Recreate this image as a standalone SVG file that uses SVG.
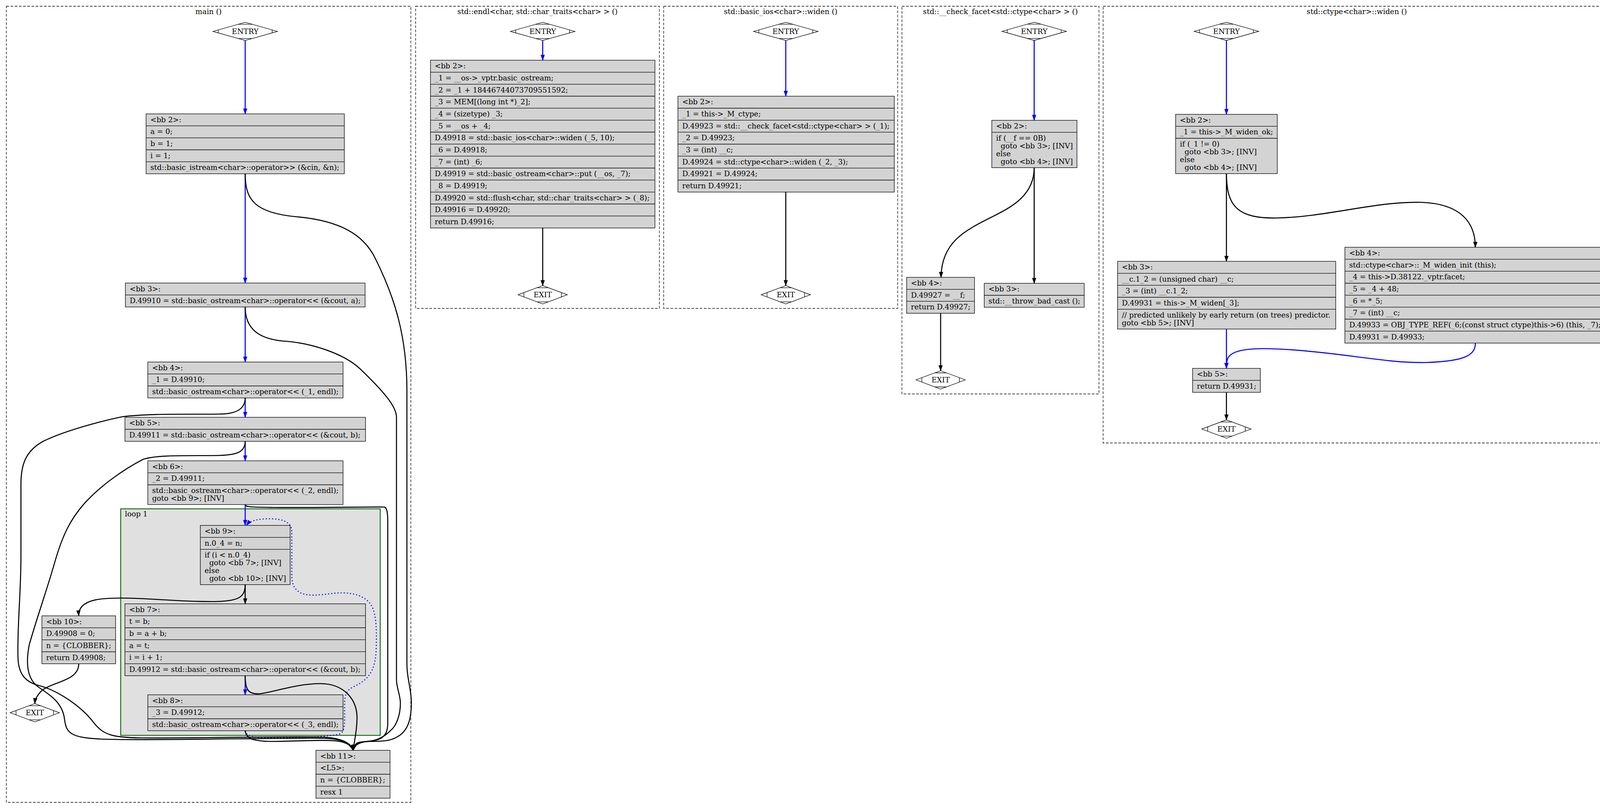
<svg xmlns="http://www.w3.org/2000/svg" width="6768" height="2071" viewBox="0 0 6768 2071">
<style>
.cl{fill:none;stroke:#000;stroke-width:1.33;stroke-dasharray:6.7,4}
.lp{fill:#e0e0e0;stroke:#006400;stroke-width:2.2}
.rec{fill:#d3d3d3;stroke:#000;stroke-width:1.33}
.sep{stroke:#000;stroke-width:1.33}
.dm{fill:#fff;stroke:#000;stroke-width:1.33}
.tk{fill:none;stroke:#000;stroke-width:1.33}
text{font-family:"DejaVu Serif",serif;font-size:18.67px;fill:#000;white-space:pre}
.tc{text-anchor:middle}
.eb{fill:none;stroke:#00f;stroke-width:2.67;marker-end:url(#ab)}
.ek{fill:none;stroke:#000;stroke-width:2.67;marker-end:url(#ak)}
.ed{fill:none;stroke:#00f;stroke-width:2.67;stroke-dasharray:2.7,5.3;marker-end:url(#ab)}
</style>
<defs>
<marker id="ab" markerUnits="userSpaceOnUse" markerWidth="14" markerHeight="10" viewBox="0 0 14 10" refX="13.3" refY="5" orient="auto" overflow="visible"><path d="M0,0.3 L13.3,5 L0,9.7 Z" fill="#00f" stroke="#00f" stroke-width="1"/></marker>
<marker id="ak" markerUnits="userSpaceOnUse" markerWidth="14" markerHeight="10" viewBox="0 0 14 10" refX="13.3" refY="5" orient="auto" overflow="visible"><path d="M0,0.3 L13.3,5 L0,9.7 Z" fill="#000" stroke="#000" stroke-width="1"/></marker>
<g id="dEn"><polygon class="dm" points="0,-23.25 82.5,0 0,23.25 -82.5,0"/><path class="tk" d="M-69,-3.8 L-69,3.8 M69,-3.8 L69,3.8 M-17.7,-18.25 L17.7,-18.25 M-17.7,18.25 L17.7,18.25"/></g>
<g id="dEx"><polygon class="dm" points="0,-23.5 63,0 0,23.5 -63,0"/><path class="tk" d="M-48,-5.6 L-48,5.6 M48,-5.6 L48,5.6 M-14.7,-18 L14.7,-18 M-14.7,18 L14.7,18"/></g>
</defs>
<rect width="6768" height="2071" fill="#fff"/>

<!-- clusters -->
<g id="clusters">
<rect class="cl" x="16.3" y="16" width="1035.4" height="2038"/><text class="tc" x="534" y="36">main ()</text>
<rect class="lp" x="309" y="1302.6" width="664.4" height="579.9"/><text x="319.8" y="1322">loop 1</text>
<rect class="cl" x="1064" y="16" width="624" height="773.5"/><text class="tc" x="1376" y="36">std::endl&lt;char, std::char_traits&lt;char&gt; &gt; ()</text>
<rect class="cl" x="1699" y="16" width="599" height="773.5"/><text class="tc" x="1998.5" y="36">std::basic_ios&lt;char&gt;::widen ()</text>
<rect class="cl" x="2309" y="16" width="504.4" height="992.5"/><text class="tc" x="2561" y="36">std::__check_facet&lt;std::ctype&lt;char&gt; &gt; ()</text>
<rect class="cl" x="2824" y="16" width="1299" height="1118"/><text class="tc" x="3473.5" y="36">std::ctype&lt;char&gt;::widen ()</text>
<rect class="cl" x="4133" y="16" width="310" height="773.5"/><text class="tc" x="4288" y="36">std::ctype&lt;char&gt;::do_widen ()</text>
<rect class="cl" x="4454" y="16" width="552.5" height="773.5"/><text class="tc" x="4730" y="36">std::flush&lt;char, std::char_traits&lt;char&gt; &gt; ()</text>
<rect class="cl" x="5017" y="16" width="420" height="773.5"/><text class="tc" x="5227" y="36">std::basic_ostream&lt;char&gt;::operator&lt;&lt; ()</text>
<rect class="cl" x="5447.6" y="16" width="563.2" height="773.5"/><text class="tc" x="5729" y="36">_GLOBAL__sub_I_main ()</text>
<rect class="cl" x="6021" y="16" width="731" height="1254"/><text class="tc" x="6386.5" y="36">__static_initialization_and_destruction_0 ()</text>
</g>

<!-- connectors -->
<g id="edges">
<!-- main -->
<path class="eb" d="M627.7,103.7 L627.7,291.5"/>
<path class="eb" d="M627.7,444.8 L627.7,724.5"/>
<path class="eb" d="M627.7,785.8 L627.7,926.7"/>
<path class="eb" d="M627.7,1018.7 L627.7,1068.3"/>
<path class="eb" d="M627.7,1129.7 L627.7,1179.6"/>
<path class="eb" d="M627.7,1291.6 L627.7,1345"/>
<path class="ek" d="M627.7,1496.6 L627.7,1545.7"/>
<path class="eb" d="M627.7,1729.7 L627.7,1778.6"/>
<path class="ed" d="M627.7,1870.7 C632,1890 660,1888 700,1888 C780,1888 850,1886 872,1878 C885,1870 882,1840 882,1810 C882,1780 885,1768 905,1758 C940,1742 962,1720 963,1660 C965,1600 962,1560 945,1542 C925,1520 890,1515 853,1519 C820,1523 790,1527 770,1518 C752,1508 747,1495 747,1470 L747,1360 C747,1335 720,1328 690,1328 C660,1328 640,1333 631,1345"/>
<path class="ek" d="M627.7,1496.6 C627.7,1530 610,1540 540,1540 C450,1540 380,1531 312,1531 C250,1531 225,1537 210,1552 C203,1560 201,1568 201.6,1576.5"/>
<path class="ek" d="M201.6,1699.2 C201.6,1745 130,1745 105,1770 C95,1780 90,1790 89,1801"/>
<path class="ek" d="M627.7,444.8 C627.7,510 650,545 760,555 C870,565 930,600 960,660 C1010,760 1041.7,860 1041.7,1000 L1041.7,1700 C1041.7,1740 1053,1760 1053,1800 C1053,1840 1045,1862 1030,1877 C1010,1895 990,1898 950,1898 C925,1898 908,1905 904,1920.7"/>
<path class="ek" d="M627.7,785.8 C627.7,840 660,870 737,874 C800,880 880,905 921.6,944 C980,1000 1015,1040 1015,1068 L1015,1740 C1015,1760 1025,1780 1025,1800 C1025,1830 1015,1858 1000,1870 C985,1885 965,1897 940,1898 C920,1899 907,1906 904,1920.7"/>
<path class="ek" d="M627.7,1018.7 C627.7,1050 600,1060 560,1060 C480,1061 380,1058 312,1067 C250,1080 160,1105 110,1130 C65,1155 53.6,1190 53.6,1240 L53.6,1424 C53.6,1520 44,1600 46,1683 C47,1720 60,1745 100,1755 C150,1768 210,1810 240,1850 C265,1882 290,1888 360,1889 C500,1890 750,1884 830,1887 C880,1890 900,1905 904,1920.7"/>
<path class="ek" d="M627.7,1129.7 C627.7,1160 600,1165 560,1166 C480,1167 400,1164 366,1176 C320,1200 260,1240 215,1290 C180,1330 160,1370 140,1440 C120,1510 95,1580 75,1650 C65,1700 70,1740 100,1760 C130,1780 160,1800 165,1840 C170,1880 180,1892 300,1893 C450,1895 750,1888 830,1890 C880,1892 900,1905 904,1920.7"/>
<path class="ek" d="M627.7,1291.6 C627.7,1298 640,1298 700,1299 C800,1300 960,1297 985,1298 C992,1302 992.7,1320 992.7,1341 L992.7,1850 C992.7,1870 988,1882 975,1890 C960,1898 935,1898 920,1900 C910,1903 905,1910 904,1920.7"/>
<path class="ek" d="M627.7,1729.7 C627.7,1765 635,1778 665,1776 C700,1772 760,1750 820,1750 C880,1750 915,1790 914,1840 C913,1880 906,1900 904,1920.7"/>
<path class="ek" d="M627.7,1870.7 C630,1890 645,1897 693,1898 C760,1898 840,1892 870,1898 C890,1902 900,1910 904,1920.7"/>
<!-- endl -->
<path class="eb" d="M1389.3,103.7 L1389.3,154.2"/>
<path class="ek" d="M1389.3,583.6 L1389.3,731.1"/>
<!-- basic_ios widen -->
<path class="eb" d="M2011.6,103.7 L2011.6,246.3"/>
<path class="ek" d="M2011.6,491.7 L2011.6,731.1"/>
<!-- check_facet -->
<path class="eb" d="M2647.5,103.5 L2647.5,308"/>
<path class="ek" d="M2647.5,429.3 L2647.5,725.3"/>
<path class="ek" d="M2647.5,429.3 C2647.5,500 2590,530 2540,555 C2470,590 2410,620 2409,710"/>
<path class="ek" d="M2408,802 L2408,949"/>
<!-- ctype widen -->
<path class="eb" d="M3139.7,103.5 L3139.7,292.7"/>
<path class="ek" d="M3139.7,444.5 L3139.7,669"/>
<path class="ek" d="M3139.7,444.5 C3139.7,530 3170,560 3270,558 C3400,555 3520,515 3640,518 C3740,522 3777,570 3776.8,633"/>
<path class="eb" d="M3139.7,842.4 L3139.7,943"/>
<path class="eb" d="M3776.8,878.4 C3776.8,905 3760,925 3650,928 C3550,930 3450,905 3300,895 C3200,888 3150,895 3142,920 C3140,928 3139.7,935 3139.7,943"/>
<path class="ek" d="M3139.7,1004.4 L3139.7,1074.8"/>
<!-- do_widen -->
<path class="eb" d="M4301,103.7 L4301,323"/>
<path class="ek" d="M4301,415 L4301,731"/>
<!-- flush -->
<path class="eb" d="M4743.75,103.7 L4743.75,306.8"/>
<path class="ek" d="M4743.75,429.5 L4743.75,731"/>
<!-- ostream operator<< -->
<path class="eb" d="M5240,103.7 L5240,291.5"/>
<path class="ek" d="M5240,444.9 L5240,731"/>
<!-- global sub -->
<path class="eb" d="M5742,103.75 L5742,322"/>
<path class="ek" d="M5742,414 L5742,730.5"/>
<!-- static init -->
<path class="eb" d="M6174,103.75 L6174,307.4"/>
<path class="ek" d="M6174,429.4 C6176,520 6208,590 6208.5,694.5"/>
<path class="ek" d="M6174,429.4 C6174,520 6100,560 6075,640 C6050,720 6030,940 6065,1000 C6090,1045 6150,1038 6250,1036 C6330,1034 6400,1030 6424,1069"/>
<path class="ek" d="M6208.5,815.6 C6208.5,870 6240,872 6300,872 C6380,872 6426,872 6426,926.6"/>
<path class="ek" d="M6208.5,815.6 C6208.5,870 6130,870 6105,910 C6080,960 6080,1010 6120,1030 C6170,1045 6300,1030 6380,1034 C6410,1036 6424,1050 6425,1069"/>
<path class="eb" d="M6426,1018.6 L6426,1069"/>
<path class="ek" d="M6426,1130.4 L6426,1211.5"/>
</g>

<!-- main nodes -->
<g id="main_entry"><use href="#dEn" x="627.7" y="80.4"/><text class="tc" x="627.7" y="87">ENTRY</text></g>
<g id="main_exit"><use href="#dEx" x="89" y="1824.6"/><text class="tc" x="89" y="1831">EXIT</text></g>
<g id="main_bb2">
<rect class="rec" x="374" y="291.5" width="507.5" height="153.3"/>
<path class="sep" d="M374,322.2 H881.5 M374,352.8 H881.5 M374,383.5 H881.5 M374,414.2 H881.5"/>
<text x="385" y="312.5">&lt;bb 2&gt;:</text><text x="385" y="343.2">a = 0;</text><text x="385" y="373.8">b = 1;</text><text x="385" y="404.5">i = 1;</text><text x="385" y="435.2">std::basic_istream&lt;char&gt;::operator&gt;&gt; (&amp;cin, &amp;n);</text>
</g>
<g id="main_bb3">
<rect class="rec" x="321" y="724.5" width="613.6" height="61.3"/>
<path class="sep" d="M321,755.2 H934.6"/>
<text x="332" y="745.5">&lt;bb 3&gt;:</text><text x="332" y="776.2">D.49910 = std::basic_ostream&lt;char&gt;::operator&lt;&lt; (&amp;cout, a);</text>
</g>
<g id="main_bb4">
<rect class="rec" x="378.4" y="926.7" width="499.8" height="92"/>
<path class="sep" d="M378.4,957.4 H878.2 M378.4,988 H878.2"/>
<text x="389.4" y="947.7">&lt;bb 4&gt;:</text><text x="389.4" y="978.4">_1 = D.49910;</text><text x="389.4" y="1009">std::basic_ostream&lt;char&gt;::operator&lt;&lt; (_1, endl);</text>
</g>
<g id="main_bb5">
<rect class="rec" x="319.8" y="1068.3" width="615.9" height="61.4"/>
<path class="sep" d="M319.8,1099 H935.7"/>
<text x="330.8" y="1089.3">&lt;bb 5&gt;:</text><text x="330.8" y="1120">D.49911 = std::basic_ostream&lt;char&gt;::operator&lt;&lt; (&amp;cout, b);</text>
</g>
<g id="main_bb6">
<rect class="rec" x="378.4" y="1179.6" width="499.8" height="112"/>
<path class="sep" d="M378.4,1210.3 H878.2 M378.4,1241 H878.2"/>
<text x="389.4" y="1200.6">&lt;bb 6&gt;:</text><text x="389.4" y="1231.3">_2 = D.49911;</text><text x="389.4" y="1262">std::basic_ostream&lt;char&gt;::operator&lt;&lt; (_2, endl);</text><text x="389.4" y="1282">goto &lt;bb 9&gt;; [INV]</text>
</g>
<g id="main_bb9">
<rect class="rec" x="512.8" y="1345" width="229.9" height="151.6"/>
<path class="sep" d="M512.8,1375.7 H742.7 M512.8,1406.4 H742.7"/>
<text x="523.8" y="1366">&lt;bb 9&gt;:</text><text x="523.8" y="1396.7">n.0_4 = n;</text><text x="523.8" y="1427.4">if (i &lt; n.0_4)</text><text x="523.8" y="1447.4">  goto &lt;bb 7&gt;; [INV]</text><text x="523.8" y="1467.4">else</text><text x="523.8" y="1487.4">  goto &lt;bb 10&gt;; [INV]</text>
</g>
<g id="main_bb7">
<rect class="rec" x="319.8" y="1545.7" width="615.9" height="184"/>
<path class="sep" d="M319.8,1576.4 H935.7 M319.8,1607 H935.7 M319.8,1637.7 H935.7 M319.8,1668.4 H935.7 M319.8,1699.1 H935.7"/>
<text x="330.8" y="1566.7">&lt;bb 7&gt;:</text><text x="330.8" y="1597.4">t = b;</text><text x="330.8" y="1628">b = a + b;</text><text x="330.8" y="1658.7">a = t;</text><text x="330.8" y="1689.4">i = i + 1;</text><text x="330.8" y="1720.1">D.49912 = std::basic_ostream&lt;char&gt;::operator&lt;&lt; (&amp;cout, b);</text>
</g>
<g id="main_bb8">
<rect class="rec" x="378.4" y="1778.6" width="499.8" height="92"/>
<path class="sep" d="M378.4,1809.3 H878.2 M378.4,1840 H878.2"/>
<text x="389.4" y="1799.6">&lt;bb 8&gt;:</text><text x="389.4" y="1830.3">_3 = D.49912;</text><text x="389.4" y="1861">std::basic_ostream&lt;char&gt;::operator&lt;&lt; (_3, endl);</text>
</g>
<g id="main_bb10">
<rect class="rec" x="107.3" y="1576.5" width="188.7" height="122.7"/>
<path class="sep" d="M107.3,1607.2 H296 M107.3,1637.8 H296 M107.3,1668.5 H296"/>
<text x="118.3" y="1597.5">&lt;bb 10&gt;:</text><text x="118.3" y="1628.2">D.49908 = 0;</text><text x="118.3" y="1658.8">n = {CLOBBER};</text><text x="118.3" y="1689.5">return D.49908;</text>
</g>
<g id="main_bb11">
<rect class="rec" x="808.8" y="1920.7" width="189.7" height="122.7"/>
<path class="sep" d="M808.8,1951.4 H998.5 M808.8,1982 H998.5 M808.8,2012.7 H998.5"/>
<text x="819.8" y="1941.7">&lt;bb 11&gt;:</text><text x="819.8" y="1972.4">&lt;L5&gt;:</text><text x="819.8" y="2003">n = {CLOBBER};</text><text x="819.8" y="2033.7">resx 1</text>
</g>

<!-- endl -->
<g id="endl_entry"><use href="#dEn" x="1389.3" y="80.4"/><text class="tc" x="1389.3" y="87">ENTRY</text></g>
<g id="endl_exit"><use href="#dEx" x="1389.3" y="754.6"/><text class="tc" x="1389.3" y="761">EXIT</text></g>
<g id="endl_bb2">
<rect class="rec" x="1102" y="154.2" width="574.6" height="429.4"/>
<path class="sep" d="M1102,184.87 H1676.6 M1102,215.54 H1676.6 M1102,246.21 H1676.6 M1102,276.88 H1676.6 M1102,307.55 H1676.6 M1102,338.22 H1676.6 M1102,368.89 H1676.6 M1102,399.56 H1676.6 M1102,430.23 H1676.6 M1102,460.9 H1676.6 M1102,491.57 H1676.6 M1102,522.24 H1676.6 M1102,552.91 H1676.6"/>
<text x="1113" y="175.2">&lt;bb 2&gt;:</text>
<text x="1113" y="205.87">_1 = __os-&gt;_vptr.basic_ostream;</text>
<text x="1113" y="236.54">_2 = _1 + 18446744073709551592;</text>
<text x="1113" y="267.21">_3 = MEM[(long int *)_2];</text>
<text x="1113" y="297.88">_4 = (sizetype) _3;</text>
<text x="1113" y="328.55">_5 = __os + _4;</text>
<text x="1113" y="359.22">D.49918 = std::basic_ios&lt;char&gt;::widen (_5, 10);</text>
<text x="1113" y="389.89">_6 = D.49918;</text>
<text x="1113" y="420.56">_7 = (int) _6;</text>
<text x="1113" y="451.23">D.49919 = std::basic_ostream&lt;char&gt;::put (__os, _7);</text>
<text x="1113" y="481.9">_8 = D.49919;</text>
<text x="1113" y="512.57">D.49920 = std::flush&lt;char, std::char_traits&lt;char&gt; &gt; (_8);</text>
<text x="1113" y="543.24">D.49916 = D.49920;</text>
<text x="1113" y="573.91">return D.49916;</text>
</g>

<!-- basic_ios widen -->
<g id="bwiden_entry"><use href="#dEn" x="2011.6" y="80.4"/><text class="tc" x="2011.6" y="87">ENTRY</text></g>
<g id="bwiden_exit"><use href="#dEx" x="2011.6" y="754.6"/><text class="tc" x="2011.6" y="761">EXIT</text></g>
<g id="bwiden_bb2">
<rect class="rec" x="1735.5" y="246.3" width="553.9" height="245.36"/>
<path class="sep" d="M1735.5,276.97 H2289.4 M1735.5,307.64 H2289.4 M1735.5,338.31 H2289.4 M1735.5,368.98 H2289.4 M1735.5,399.65 H2289.4 M1735.5,430.32 H2289.4 M1735.5,460.99 H2289.4"/>
<text x="1746.5" y="267.3">&lt;bb 2&gt;:</text>
<text x="1746.5" y="297.97">_1 = this-&gt;_M_ctype;</text>
<text x="1746.5" y="328.64">D.49923 = std::__check_facet&lt;std::ctype&lt;char&gt; &gt; (_1);</text>
<text x="1746.5" y="359.31">_2 = D.49923;</text>
<text x="1746.5" y="389.98">_3 = (int) __c;</text>
<text x="1746.5" y="420.65">D.49924 = std::ctype&lt;char&gt;::widen (_2, _3);</text>
<text x="1746.5" y="451.32">D.49921 = D.49924;</text>
<text x="1746.5" y="481.99">return D.49921;</text>
</g>

<!-- check_facet -->
<g id="cf_entry"><use href="#dEn" x="2647.5" y="80.2"/><text class="tc" x="2647.5" y="86.8">ENTRY</text></g>
<g id="cf_exit"><use href="#dEx" x="2408" y="972.5"/><text class="tc" x="2408" y="979">EXIT</text></g>
<g id="cf_bb2">
<rect class="rec" x="2539" y="308" width="218" height="121.3"/>
<path class="sep" d="M2539,338.7 H2757"/>
<text x="2550" y="329">&lt;bb 2&gt;:</text><text x="2550" y="359.7">if (__f == 0B)</text><text x="2550" y="379.7">  goto &lt;bb 3&gt;; [INV]</text><text x="2550" y="399.7">else</text><text x="2550" y="419.7">  goto &lt;bb 4&gt;; [INV]</text>
</g>
<g id="cf_bb4">
<rect class="rec" x="2321" y="710" width="173.7" height="92"/>
<path class="sep" d="M2321,740.7 H2494.7 M2321,771.3 H2494.7"/>
<text x="2332" y="731">&lt;bb 4&gt;:</text><text x="2332" y="761.7">D.49927 = __f;</text><text x="2332" y="792.3">return D.49927;</text>
</g>
<g id="cf_bb3">
<rect class="rec" x="2519.6" y="725.3" width="255.9" height="61.3"/>
<path class="sep" d="M2519.6,756 H2775.5"/>
<text x="2530.6" y="746.3">&lt;bb 3&gt;:</text><text x="2530.6" y="777">std::__throw_bad_cast ();</text>
</g>

<!-- ctype widen -->
<g id="cw_entry"><use href="#dEn" x="3139.7" y="80.2"/><text class="tc" x="3139.7" y="86.8">ENTRY</text></g>
<g id="cw_exit"><use href="#dEx" x="3139.7" y="1098.3"/><text class="tc" x="3139.7" y="1104.8">EXIT</text></g>
<g id="cw_bb2">
<rect class="rec" x="3009.6" y="292.7" width="260.2" height="151.8"/>
<path class="sep" d="M3009.6,323.4 H3269.8 M3009.6,354 H3269.8"/>
<text x="3020.6" y="313.7">&lt;bb 2&gt;:</text><text x="3020.6" y="344.4">_1 = this-&gt;_M_widen_ok;</text><text x="3020.6" y="375">if (_1 != 0)</text><text x="3020.6" y="395">  goto &lt;bb 3&gt;; [INV]</text><text x="3020.6" y="415">else</text><text x="3020.6" y="435">  goto &lt;bb 4&gt;; [INV]</text>
</g>
<g id="cw_bb3">
<rect class="rec" x="2861" y="669" width="558.5" height="173.4"/>
<path class="sep" d="M2861,699.7 H3419.5 M2861,730.3 H3419.5 M2861,761 H3419.5 M2861,791.7 H3419.5"/>
<text x="2872" y="690">&lt;bb 3&gt;:</text><text x="2872" y="720.7">__c.1_2 = (unsigned char) __c;</text><text x="2872" y="751.3">_3 = (int) __c.1_2;</text><text x="2872" y="782">D.49931 = this-&gt;_M_widen[_3];</text><text x="2872" y="812.7">// predicted unlikely by early return (on trees) predictor.</text><text x="2872" y="832.7">goto &lt;bb 5&gt;; [INV]</text>
</g>
<g id="cw_bb4">
<rect class="rec" x="3442.9" y="633" width="667.8" height="245.36"/>
<path class="sep" d="M3442.9,663.67 H4110.7 M3442.9,694.34 H4110.7 M3442.9,725.01 H4110.7 M3442.9,755.68 H4110.7 M3442.9,786.35 H4110.7 M3442.9,817.02 H4110.7 M3442.9,847.69 H4110.7"/>
<text x="3453.9" y="654">&lt;bb 4&gt;:</text>
<text x="3453.9" y="684.67">std::ctype&lt;char&gt;::_M_widen_init (this);</text>
<text x="3453.9" y="715.34">_4 = this-&gt;D.38122._vptr.facet;</text>
<text x="3453.9" y="746.01">_5 = _4 + 48;</text>
<text x="3453.9" y="776.68">_6 = *_5;</text>
<text x="3453.9" y="807.35">_7 = (int) __c;</text>
<text x="3453.9" y="838.02">D.49933 = OBJ_TYPE_REF(_6;(const struct ctype)this-&gt;6) (this, _7);</text>
<text x="3453.9" y="868.69">D.49931 = D.49933;</text>
</g>
<g id="cw_bb5">
<rect class="rec" x="3053" y="943" width="173.5" height="61.4"/>
<path class="sep" d="M3053,973.7 H3226.5"/>
<text x="3064" y="964">&lt;bb 5&gt;:</text><text x="3064" y="994.7">return D.49931;</text>
</g>

<!-- do_widen -->
<g id="dw_entry"><use href="#dEn" x="4301" y="80.4"/><text class="tc" x="4301" y="87">ENTRY</text></g>
<g id="dw_exit"><use href="#dEx" x="4301" y="754.5"/><text class="tc" x="4301" y="761">EXIT</text></g>
<g id="dw_bb2">
<rect class="rec" x="4214" y="323" width="174" height="92"/>
<path class="sep" d="M4214,353.7 H4388 M4214,384.3 H4388"/>
<text x="4225" y="344">&lt;bb 2&gt;:</text><text x="4225" y="374.7">D.49934 = __c;</text><text x="4225" y="405.3">return D.49934;</text>
</g>

<!-- flush -->
<g id="fl_entry"><use href="#dEn" x="4743.75" y="80.4"/><text class="tc" x="4743.75" y="87">ENTRY</text></g>
<g id="fl_exit"><use href="#dEx" x="4743.75" y="754.5"/><text class="tc" x="4743.75" y="761">EXIT</text></g>
<g id="fl_bb2">
<rect class="rec" x="4491" y="306.8" width="505.3" height="122.7"/>
<path class="sep" d="M4491,337.47 H4996.3 M4491,368.14 H4996.3 M4491,398.81 H4996.3"/>
<text x="4502" y="327.8">&lt;bb 2&gt;:</text><text x="4502" y="358.47">D.49938 = std::basic_ostream&lt;char&gt;::flush (__os);</text><text x="4502" y="389.14">D.49936 = D.49938;</text><text x="4502" y="419.81">return D.49936;</text>
</g>

<!-- ostream operator<< -->
<g id="op_entry"><use href="#dEn" x="5240" y="80.4"/><text class="tc" x="5240" y="87">ENTRY</text></g>
<g id="op_exit"><use href="#dEx" x="5240" y="754.5"/><text class="tc" x="5240" y="761">EXIT</text></g>
<g id="op_bb2">
<rect class="rec" x="5106.6" y="291.5" width="266.6" height="153.35"/>
<path class="sep" d="M5106.6,322.17 H5373.2 M5106.6,352.84 H5373.2 M5106.6,383.51 H5373.2 M5106.6,414.18 H5373.2"/>
<text x="5117.6" y="312.5">&lt;bb 2&gt;:</text><text x="5117.6" y="343.17">__pf.2_1 = __pf;</text><text x="5117.6" y="373.84">D.49941 = __pf.2_1 (this);</text><text x="5117.6" y="404.51">D.49939 = D.49941;</text><text x="5117.6" y="435.18">return D.49939;</text>
</g>

<!-- _GLOBAL__sub_I_main -->
<g id="gs_entry"><use href="#dEn" x="5742" y="80.5"/><text class="tc" x="5742" y="87">ENTRY</text></g>
<g id="gs_exit"><use href="#dEx" x="5742" y="754"/><text class="tc" x="5742" y="760.5">EXIT</text></g>
<g id="gs_bb2">
<rect class="rec" x="5485" y="322" width="515" height="92"/>
<path class="sep" d="M5485,352.7 H6000 M5485,383.3 H6000"/>
<text x="5496" y="343">&lt;bb 2&gt;:</text><text x="5496" y="373.7">__static_initialization_and_destruction_0 (1, 65535);</text><text x="5496" y="404.3">return;</text>
</g>

<!-- __static_initialization_and_destruction_0 -->
<g id="si_entry"><use href="#dEn" x="6174" y="80.5"/><text class="tc" x="6174" y="87">ENTRY</text></g>
<g id="si_exit"><use href="#dEx" x="6426" y="1235"/><text class="tc" x="6426" y="1241.5">EXIT</text></g>
<g id="si_bb2">
<rect class="rec" x="6059" y="307.4" width="231" height="122"/>
<path class="sep" d="M6059,338 H6290"/>
<text x="6070" y="328.4">&lt;bb 2&gt;:</text><text x="6070" y="359">if (__initialize_p == 1)</text><text x="6070" y="379">  goto &lt;bb 3&gt;; [INV]</text><text x="6070" y="399">else</text><text x="6070" y="419">  goto &lt;bb 5&gt;; [INV]</text>
</g>
<g id="si_bb3">
<rect class="rec" x="6084.5" y="694.5" width="249" height="121.1"/>
<path class="sep" d="M6084.5,725.2 H6333.5"/>
<text x="6095.5" y="715.5">&lt;bb 3&gt;:</text><text x="6095.5" y="746.2">if (__priority == 65535)</text><text x="6095.5" y="766.2">  goto &lt;bb 4&gt;; [INV]</text><text x="6095.5" y="786.2">else</text><text x="6095.5" y="806.2">  goto &lt;bb 5&gt;; [INV]</text>
</g>
<g id="si_bb4">
<rect class="rec" x="6111.6" y="926.6" width="629.4" height="92"/>
<path class="sep" d="M6111.6,957.3 H6741 M6111.6,988 H6741"/>
<text x="6122.6" y="947.6">&lt;bb 4&gt;:</text><text x="6122.6" y="978.3">std::ios_base::Init::Init (&amp;__ioinit);</text><text x="6122.6" y="1009">__cxxabiv1::__cxa_atexit (__dt_comp , &amp;__ioinit, &amp;__dso_handle);</text>
</g>
<g id="si_bb5">
<rect class="rec" x="6375" y="1069" width="102.5" height="61.4"/>
<path class="sep" d="M6375,1099.7 H6477.5"/>
<text x="6386" y="1090">&lt;bb 5&gt;:</text><text x="6386" y="1120.7">return;</text>
</g>
</svg>
